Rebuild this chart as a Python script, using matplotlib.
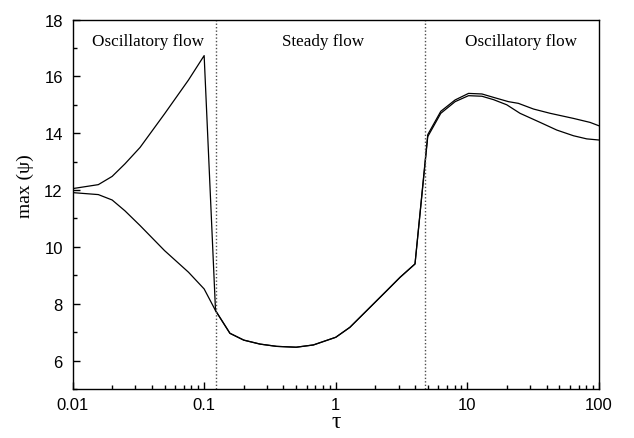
import matplotlib
matplotlib.use('Agg')
import matplotlib.pyplot as plt
from matplotlib.ticker import LogLocator, MultipleLocator, FixedLocator, FixedFormatter

# oscillatory region, small tau (two branches)
TAU_LEFT = [0.01, 0.0157, 0.02, 0.025, 0.0326, 0.05, 0.076, 0.1]
UPPER_LEFT = [12.05, 12.19, 12.48, 12.92, 13.50, 14.68, 15.87, 16.73]
LOWER_LEFT = [11.91, 11.84, 11.65, 11.27, 10.75, 9.87, 9.11, 8.52]

# steady region (single branch)
TAU_STEADY = [0.122, 0.157, 0.2, 0.266, 0.356, 0.5, 0.676, 1.0, 1.28, 1.72,
              2.44, 3.08, 4.0]
PSI_STEADY = [7.76, 6.96, 6.72, 6.58, 6.50, 6.47, 6.55, 6.82, 7.17, 7.76,
              8.46, 8.93, 9.40]

# oscillatory region, large tau (two branches)
TAU_RIGHT_UP = [5.0, 6.28, 8.07, 10.2, 12.9, 15.8, 20.5, 24.4, 31.8, 42.5,
                64, 85.5, 100]
UPPER_RIGHT = [13.95, 14.77, 15.17, 15.40, 15.38, 15.26, 15.11, 15.05, 14.85,
               14.70, 14.52, 14.38, 14.26]
TAU_RIGHT_LO = [5.0, 6.28, 8.07, 10.2, 12.9, 15.8, 19.9, 25.1, 35.7, 47.8,
                64, 80.7, 100]
LOWER_RIGHT = [13.88, 14.70, 15.11, 15.32, 15.30, 15.18, 15.0, 14.70, 14.38,
               14.11, 13.91, 13.80, 13.76]

BOUNDARIES = [0.122, 4.77]
REGIONS = [(0.0372, 'Oscillatory flow'), (0.80, 'Steady flow'), (25.6, 'Oscillatory flow')]
X_TICKS = [0.01, 0.1, 1, 10, 100]
X_TICK_LABELS = ['0.01', '0.1', '1', '10', '100']

SANS = 'Liberation Sans'
SERIF = 'Liberation Serif'

fig = plt.figure(figsize=(6.34, 4.39), dpi=100)
ax = fig.add_axes([0.1144, 0.1116, 0.8304, 0.8417])

tau_up = TAU_LEFT + TAU_STEADY + TAU_RIGHT_UP
psi_up = UPPER_LEFT + PSI_STEADY + UPPER_RIGHT
tau_lo = TAU_LEFT + TAU_STEADY + TAU_RIGHT_LO
psi_lo = LOWER_LEFT + PSI_STEADY + LOWER_RIGHT

ax.plot(tau_up, psi_up, color='black', lw=0.9)
ax.plot(tau_lo, psi_lo, color='black', lw=0.9)

for b in BOUNDARIES:
    ax.axvline(b, color='0.3', lw=1.0, linestyle=(0, (1, 1.5)))

for x, txt in REGIONS:
    ax.text(x, 17.25, txt, ha='center', va='center', fontsize=12.3,
            family=SERIF)

ax.set_xscale('log')
ax.set_xlim(0.01, 100)
ax.set_ylim(5, 18)

ax.xaxis.set_major_locator(FixedLocator(X_TICKS))
ax.xaxis.set_major_formatter(FixedFormatter(X_TICK_LABELS))
ax.xaxis.set_minor_locator(LogLocator(base=10, subs=range(2, 10)))
ax.yaxis.set_major_locator(MultipleLocator(2))
ax.yaxis.set_minor_locator(MultipleLocator(1))

ax.tick_params(which='both', direction='in', top=False, right=False,
               width=1.0)
ax.tick_params(which='major', length=5)
ax.tick_params(which='minor', length=3)
ax.tick_params(axis='y', which='major', pad=7, labelsize=12)
ax.tick_params(axis='x', which='major', pad=6, labelsize=12)
for lab in ax.get_xticklabels() + ax.get_yticklabels():
    lab.set_family(SANS)

for s in ax.spines.values():
    s.set_linewidth(1.0)

# axis titles placed where they sit in the original
fig.text(336 / 634, 1 - 423 / 439, 'τ', family=SERIF, fontsize=17,
         ha='center', va='center')
fig.text(25 / 634, 1 - 186 / 439, 'max (ψ)', family=SERIF, fontsize=14,
         rotation=90, ha='center', va='center')

fig.savefig('out.png', dpi=100)
